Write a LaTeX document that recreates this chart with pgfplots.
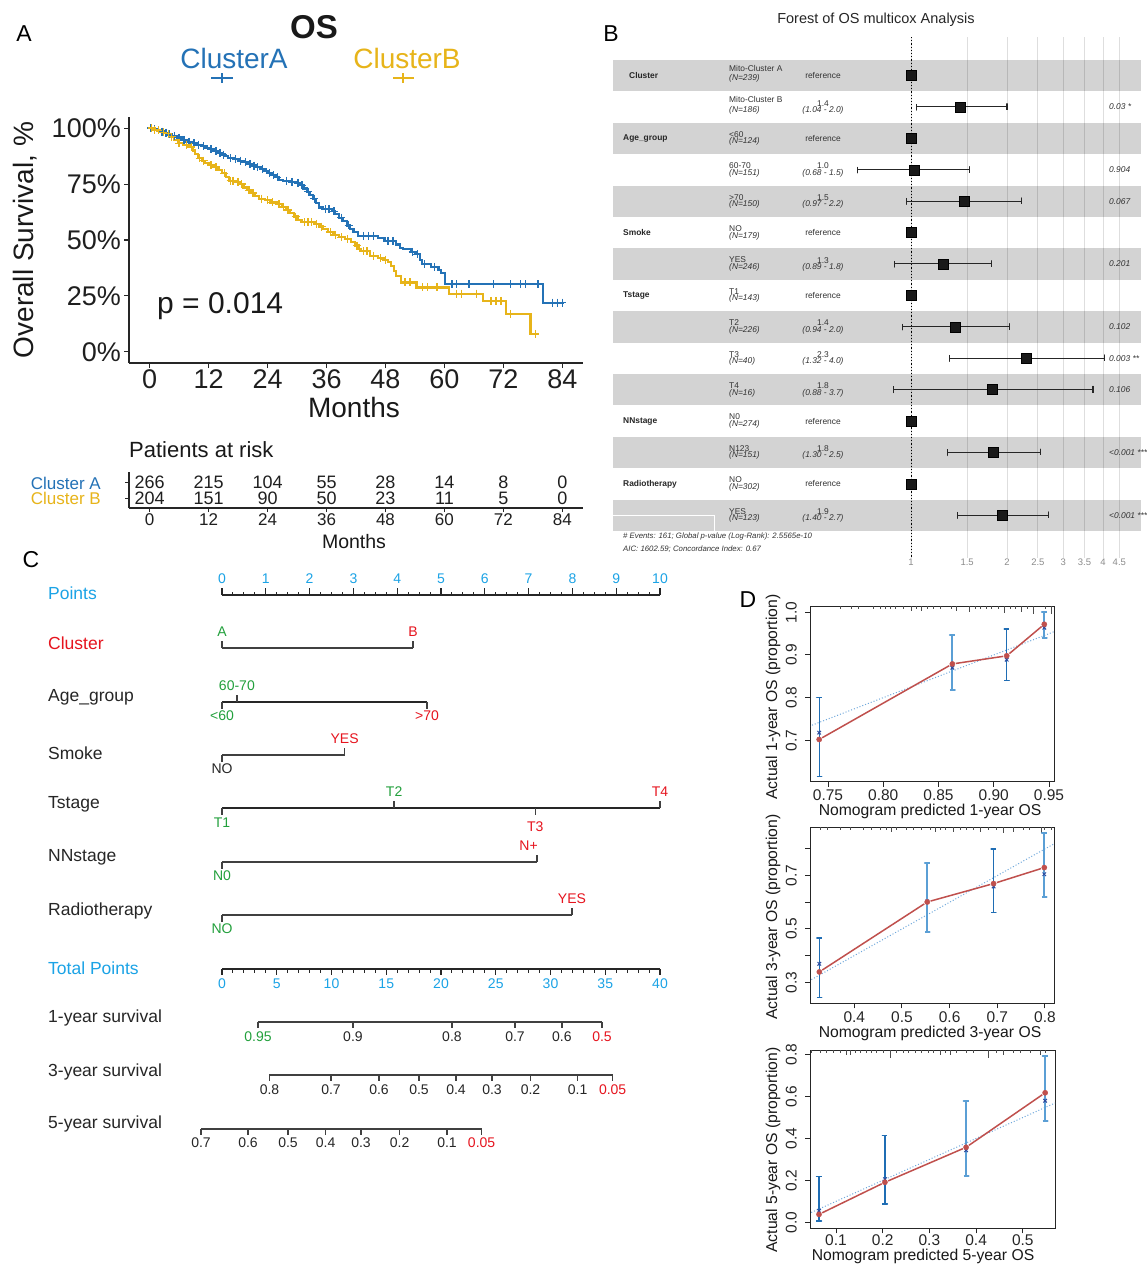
\documentclass[border=0pt]{standalone}
\usepackage{pgfplots}
\pgfplotsset{compat=1.18}
\usepackage{fontspec}
\setmainfont{Liberation Sans}
\newcommand{\fs}[1]{\fontsize{#1}{#1}\selectfont}
\definecolor{kmblue}{HTML}{2472B6}
\definecolor{kmgold}{HTML}{E7B41A}
\definecolor{nomblue}{HTML}{1BA3E6}
\definecolor{nomred}{HTML}{E6141E}
\definecolor{nomgreen}{HTML}{22A03C}
\definecolor{calred}{HTML}{C0504D}
\definecolor{bardark}{HTML}{1F6DB4}
\definecolor{barlight}{HTML}{5B9FD5}
\definecolor{calnavy}{HTML}{2B4A9E}
\definecolor{callight}{HTML}{6FA8DC}
\definecolor{bandgrey}{HTML}{D3D3D3}
\tikzset{
  fL/.style={anchor=west, inner sep=0pt, font=\fs{8.4}, text=black!80},
  fI/.style={anchor=west, inner sep=0pt, font=\itshape\fs{8.4}, text=black!80},
  fC/.style={anchor=center, inner sep=0pt, font=\fs{8.4}, text=black!80},
  fCI/.style={anchor=center, inner sep=0pt, font=\itshape\fs{8.4}, text=black!80},
  fV/.style={anchor=west, inner sep=0pt, font=\bfseries\fs{8.4}, text=black!85},
  nomline/.style={draw=black!75, line width=1.3pt},
  nomlab/.style={anchor=west, inner sep=0pt, font=\fs{17.5}, text=black!85},
  nt/.style={font=\fs{14}, inner sep=0pt},
  ebd/.style={bardark, line width=1.3pt, line join=round},
  ebl/.style={barlight, line width=1.8pt, line join=round},
}
\newcommand{\frow}[6]{%
  \node[fL] at (729,{#1-4}) {#2};
  \node[fI] at (729,{#1+3.3}) {(N=#3)};
  \node[fC] at (823,{#1-3.8}) {#4};
  \node[fCI] at (823,{#1+3.2}) {#5};
  \node[fI] at (1109,#1) {#6};}
\newcommand{\fref}[3]{%
  \node[fL] at (729,{#1-4}) {#2};
  \node[fI] at (729,{#1+3.3}) {(N=#3)};
  \node[fC] at (823,#1) {reference};}
\pgfplotsset{dstyle/.style={scale only axis,
  axis line style={line width=1pt, black!85},
  tick pos=left, tick align=outside, major tick length=5pt,
  tick style={black!85, line width=1pt},
  xticklabel style={font=\fs{15.5}, text=black!85, inner sep=3pt},
  yticklabel style={font=\fs{15.5}, text=black!85, rotate=90, anchor=south, inner sep=8pt}}}
\begin{document}
\begin{tikzpicture}
\useasboundingbox (0pt,0pt) rectangle (1147pt,-1264pt);
\fill[white] (0pt,0pt) rectangle (1147pt,-1264pt);

% forest bands
\begin{scope}[x=1pt,y=-1pt]
\foreach \k in {1,3,5,7,9,11,13,15}{
  \fill[bandgrey] (613,{60+(\k-1)*31.4}) rectangle (1141,{60+\k*31.4});
}
\draw[white, line width=1pt] (613,515) -- (714,515) -- (714,531);
\end{scope}

% ================= Panel A: KM =================
\begin{axis}[at={(129pt,-363pt)}, anchor=south west, scale only axis,
  width=454pt, height=246pt,
  xmin=-4.2, xmax=88.2, ymin=-0.05, ymax=1.05,
  axis x line*=bottom, axis y line*=left,
  axis line style={line width=1.1pt, black!85},
  tick style={line width=1.1pt, black!85},
  tick align=outside, major tick length=5pt,
  xtick={0,12,24,36,48,60,72,84},
  ytick={0,0.25,0.5,0.75,1}, yticklabels={0\%,25\%,50\%,75\%,100\%},
  xticklabel style={font=\fs{27}, text=black!88, inner sep=1pt},
  yticklabel style={font=\fs{27}, text=black!88, inner sep=3pt},
  /pgf/number format/assume math mode=true,
  clip=false]
\addplot[const plot, kmblue, line width=2.2pt] coordinates {
(0,1.0)(0.8,0.996)(1.5,0.99)(2.2,0.985)(3.0,0.98)(3.8,0.972)(4.6,0.966)(5.5,0.958)(6.5,0.948)(7.5,0.94)(8.4,0.933)(9.5,0.925)(10.4,0.92)(11.3,0.912)(12.2,0.906)(13.0,0.898)(13.8,0.89)(14.6,0.882)(15.4,0.874)(16.0,0.866)(17.0,0.862)(18.0,0.855)(19.0,0.848)(20.0,0.84)(20.8,0.833)(21.6,0.826)(22.6,0.818)(23.2,0.81)(24.0,0.798)(24.8,0.79)(25.6,0.78)(26.4,0.77)(27.2,0.765)(28.5,0.76)(29.8,0.755)(30.6,0.745)(31.3,0.73)(32.0,0.716)(32.6,0.70)(33.2,0.685)(33.8,0.665)(34.5,0.645)(35.2,0.638)(37.2,0.628)(37.8,0.615)(38.6,0.60)(39.4,0.585)(40.2,0.565)(40.8,0.55)(41.5,0.535)(42.4,0.519)(46.4,0.508)(47.8,0.496)(50.2,0.48)(50.9,0.466)(51.5,0.459)(53.2,0.447)(54.0,0.436)(55.0,0.41)(55.5,0.392)(57.2,0.38)(58.8,0.365)(59.3,0.354)(60.1,0.302)(80.1,0.22)(84.4,0.22)};
\addplot[only marks, mark=+, mark size=4pt, kmblue, mark options={line width=1.4pt}] coordinates {
(0.3,1.0)(1.0,0.996)(1.8,0.99)(2.5,0.985)(3.3,0.98)(4.0,0.972)(5.0,0.966)(6.0,0.958)(7.0,0.948)(8.0,0.94)(9.0,0.933)(10.0,0.925)(11.0,0.92)(12.5,0.906)(13.5,0.898)(14.3,0.89)(15.0,0.882)(16.5,0.866)(17.5,0.862)(18.5,0.855)(19.5,0.848)(20.4,0.84)(21.2,0.833)(22.0,0.826)(23.0,0.818)(24.4,0.798)(25.2,0.79)(26.0,0.78)(27.8,0.765)(29.0,0.76)(30.2,0.755)(31.0,0.745)(32.3,0.716)(33.5,0.685)(35.8,0.638)(36.5,0.638)(37.5,0.628)(39.0,0.60)(40.5,0.565)(43.5,0.519)(44.5,0.519)(45.5,0.519)(48.5,0.496)(49.5,0.496)(53.5,0.447)(54.5,0.436)(56.0,0.392)(58.0,0.38)(61.5,0.302)(62.5,0.302)(65.0,0.302)(70.0,0.302)(73.5,0.302)(75.5,0.302)(76.5,0.302)(79.0,0.302)(82.0,0.22)(83.0,0.22)(84.0,0.22)};
\addplot[const plot, kmgold, line width=2.2pt] coordinates {
(0,1.0)(0.7,0.994)(1.5,0.99)(2.3,0.982)(3.4,0.975)(4.2,0.962)(5.0,0.948)(5.7,0.932)(6.8,0.925)(8.1,0.915)(8.8,0.9)(9.3,0.885)(9.8,0.865)(10.6,0.855)(11.3,0.845)(12.0,0.835)(13.0,0.825)(14.0,0.812)(14.8,0.798)(15.5,0.78)(16.1,0.765)(17.5,0.76)(18.3,0.75)(19.1,0.735)(19.8,0.722)(20.6,0.71)(21.4,0.695)(22.2,0.685)(23.5,0.678)(24.5,0.668)(25.8,0.66)(26.9,0.648)(27.8,0.635)(28.6,0.62)(29.3,0.605)(30.1,0.59)(30.9,0.58)(33.5,0.572)(34.4,0.56)(35.3,0.548)(36.3,0.535)(37.4,0.522)(38.6,0.512)(39.8,0.503)(41.0,0.49)(41.8,0.475)(42.5,0.46)(43.0,0.45)(44.9,0.43)(46.5,0.42)(47.6,0.412)(48.5,0.40)(49.2,0.385)(49.8,0.36)(50.2,0.34)(51.1,0.31)(54.3,0.288)(61.0,0.26)(67.8,0.228)(72.6,0.17)(77.5,0.08)(79.3,0.08)};
\addplot[only marks, mark=+, mark size=4pt, kmgold, mark options={line width=1.4pt}] coordinates {
(0.4,1.0)(1.0,0.994)(1.8,0.99)(2.8,0.982)(3.8,0.975)(4.5,0.962)(6.0,0.932)(7.5,0.925)(8.5,0.915)(10.2,0.865)(11.0,0.855)(12.5,0.835)(13.5,0.825)(15.2,0.798)(16.5,0.765)(17.0,0.765)(18.0,0.76)(18.7,0.75)(20.2,0.722)(21.0,0.71)(22.8,0.685)(24.0,0.678)(25.0,0.668)(26.3,0.66)(27.3,0.648)(28.2,0.635)(29.7,0.605)(31.5,0.58)(32.2,0.58)(33.0,0.58)(34.0,0.572)(35.0,0.56)(36.8,0.535)(37.8,0.522)(39.0,0.512)(40.3,0.503)(42.2,0.475)(43.5,0.45)(44.2,0.45)(45.5,0.43)(47.0,0.42)(48.0,0.412)(52.0,0.31)(53.0,0.31)(55.5,0.288)(56.5,0.288)(58.5,0.288)(62.5,0.26)(63.5,0.26)(66.5,0.26)(69.5,0.228)(70.5,0.228)(71.5,0.228)(73.5,0.17)(78.5,0.08)};
\end{axis}

% risk table
\begin{axis}[at={(129pt,-508pt)}, anchor=south west, scale only axis,
  width=454pt, height=36pt,
  xmin=-4.2, xmax=88.2, ymin=0, ymax=36,
  axis x line*=bottom, axis y line*=left,
  axis line style={line width=1.1pt, black!85},
  tick style={line width=1pt, black!85},
  tick align=outside, major tick length=4pt,
  xtick={0,12,24,36,48,60,72,84}, ytick={10,26}, yticklabels={\mbox{},\mbox{}},
  xticklabel style={font=\fs{17}, text=black!88, inner sep=1.5pt},
  /pgf/number format/assume math mode=true,
  clip=false]
\foreach \xx/\aa/\bb in {0/266/204,12/215/151,24/104/90,36/55/50,48/28/23,60/14/11,72/8/5,84/0/0}{
  \edef\tmp{\noexpand\node[font=\noexpand\fs{18}, text=black!88, inner sep=0pt] at (axis cs:\xx,26) {\aa};
    \noexpand\node[font=\noexpand\fs{18}, text=black!88, inner sep=0pt] at (axis cs:\xx,10) {\bb};}
  \tmp
}
\end{axis}

% ================= Panel B: forest =================
\begin{axis}[at={(613pt,-558pt)}, anchor=south west, scale only axis,
  width=528pt, height=521pt,
  xmode=log, xmin=0.1163, xmax=5.262, ymin=-0.226, ymax=16.366, y dir=reverse,
  axis line style={draw=none}, major tick length=0pt, ytick=\empty,
  xtick={1,1.5,2,2.5,3,3.5,4,4.5}, xticklabels={1,1.5,2,2.5,3,3.5,4,4.5},
  xmajorgrids, grid style={black, opacity=0.13, line width=0.9pt},
  xticklabel style={font=\fs{9.5}, text=black!45, inner sep=1pt},
  clip=false]
\addplot[black, line width=0.9pt, dash pattern=on 1.2pt off 2pt] coordinates {(1,-0.226)(1,16.366)};
\addplot[black!85, line width=1.1pt, line join=round] coordinates {(1.04,1.9)(1.04,2.1)(1.04,2)(2.0,2)(2.0,1.9)(2.0,2.1)};
\addplot[black!85, line width=1.1pt, line join=round] coordinates {(0.68,3.9)(0.68,4.1)(0.68,4)(1.53,4)(1.53,3.9)(1.53,4.1)};
\addplot[black!85, line width=1.1pt, line join=round] coordinates {(0.97,4.9)(0.97,5.1)(0.97,5)(2.22,5)(2.22,4.9)(2.22,5.1)};
\addplot[black!85, line width=1.1pt, line join=round] coordinates {(0.89,6.9)(0.89,7.1)(0.89,7)(1.79,7)(1.79,6.9)(1.79,7.1)};
\addplot[black!85, line width=1.1pt, line join=round] coordinates {(0.94,8.9)(0.94,9.1)(0.94,9)(2.03,9)(2.03,8.9)(2.03,9.1)};
\addplot[black!85, line width=1.1pt, line join=round] coordinates {(1.32,9.9)(1.32,10.1)(1.32,10)(4.03,10)(4.03,9.9)(4.03,10.1)};
\addplot[black!85, line width=1.1pt, line join=round] coordinates {(0.88,10.9)(0.88,11.1)(0.88,11)(3.72,11)(3.72,10.9)(3.72,11.1)};
\addplot[black!85, line width=1.1pt, line join=round] coordinates {(1.30,12.9)(1.30,13.1)(1.30,13)(2.54,13)(2.54,12.9)(2.54,13.1)};
\addplot[black!85, line width=1.1pt, line join=round] coordinates {(1.40,14.9)(1.40,15.1)(1.40,15)(2.69,15)(2.69,14.9)(2.69,15.1)};
\addplot[only marks, mark=square*, mark size=5pt, mark options={fill=black!90, draw=none}] coordinates {
(1,1)(1.43,2)(1,3)(1.02,4)(1.47,5)(1,6)(1.26,7)(1,8)(1.38,9)(2.3,10)(1.8,11)(1,12)(1.81,13)(1,14)(1.93,15)};
\end{axis}

% ================= Panel C: nomogram =================
\begin{axis}[at={(0pt,-560pt)}, anchor=north west, scale only axis,
  width=700pt, height=600pt,
  xmin=-5.0685, xmax=10.913, ymin=560, ymax=1160, y dir=reverse,
  hide axis, clip=false]
% Points
\addplot[nomline, draw=black!85, line width=2pt] coordinates {(0,595)(10,595)};
\addplot[nomline, draw=black!85, quiver={u=0,v=-7}] coordinates {(0,595)(1,595)(2,595)(3,595)(4,595)(5,595)(6,595)(7,595)(8,595)(9,595)(10,595)};
\addplot[nomline, draw=black!85, line width=1pt, quiver={u=0,v=-3.5}] coordinates {(0.25,595)(0.5,595)(0.75,595)(1.25,595)(1.5,595)(1.75,595)(2.25,595)(2.5,595)(2.75,595)(3.25,595)(3.5,595)(3.75,595)(4.25,595)(4.5,595)(4.75,595)(5.25,595)(5.5,595)(5.75,595)(6.25,595)(6.5,595)(6.75,595)(7.25,595)(7.5,595)(7.75,595)(8.25,595)(8.5,595)(8.75,595)(9.25,595)(9.5,595)(9.75,595)};
\foreach \v in {0,...,10}{\edef\tmp{\noexpand\node[nt, text=nomblue] at (axis cs:\v,579) {\v};}\tmp}
% Cluster
\addplot[nomline] coordinates {(0,648)(4.36,648)};
\addplot[nomline, quiver={u=0,v=-7}] coordinates {(0,648)(4.36,648)};
\node[nt, text=nomgreen] at (axis cs:0,632) {A};
\node[nt, text=nomred] at (axis cs:4.36,632) {B};
% Age
\addplot[nomline, draw=black!85, line width=1.8pt] coordinates {(0,702)(4.68,702)};
\addplot[nomline, quiver={u=0,v=-7}] coordinates {(0.34,702)};
\addplot[nomline, quiver={u=0,v=7}] coordinates {(0,702)(4.68,702)};
\node[nt, text=nomgreen] at (axis cs:0.34,686) {60-70};
\node[nt, text=nomgreen] at (axis cs:0,716) {<60};
\node[nt, text=nomred] at (axis cs:4.68,716) {>70};
% Smoke
\addplot[nomline] coordinates {(0,755)(2.80,755)};
\addplot[nomline, quiver={u=0,v=-7}] coordinates {(2.80,755)};
\addplot[nomline, quiver={u=0,v=7}] coordinates {(0,755)};
\node[nt, text=nomred] at (axis cs:2.80,739) {YES};
\node[nt, text=black!85] at (axis cs:0,769) {NO};
% Tstage
\addplot[nomline, draw=black!85, line width=1.8pt] coordinates {(0,808)(10,808)};
\addplot[nomline, quiver={u=0,v=-7}] coordinates {(3.93,808)(10,808)};
\addplot[nomline, quiver={u=0,v=7}] coordinates {(0,808)(7.15,808)};
\node[nt, text=nomgreen] at (axis cs:3.93,792) {T2};
\node[nt, text=nomred] at (axis cs:10,792) {T4};
\node[nt, text=nomgreen] at (axis cs:0,823) {T1};
\node[nt, text=nomred] at (axis cs:7.15,827) {T3};
% NNstage
\addplot[nomline] coordinates {(0,862)(7.19,862)};
\addplot[nomline, quiver={u=0,v=-7}] coordinates {(7.19,862)};
\addplot[nomline, quiver={u=0,v=7}] coordinates {(0,862)};
\node[nt, text=nomred] at (axis cs:7.0,846) {N+};
\node[nt, text=nomgreen] at (axis cs:0,876) {N0};
% Radiotherapy
\addplot[nomline] coordinates {(0,915)(7.99,915)};
\addplot[nomline, quiver={u=0,v=-7}] coordinates {(7.99,915)};
\addplot[nomline, quiver={u=0,v=7}] coordinates {(0,915)};
\node[nt, text=nomred] at (axis cs:7.99,899) {YES};
\node[nt, text=nomgreen] at (axis cs:0,929) {NO};
% Total points
\addplot[nomline, draw=black!85, line width=2pt] coordinates {(0,969)(10,969)};
\addplot[nomline, draw=black!85, quiver={u=0,v=6}] coordinates {(0,969)(1.25,969)(2.5,969)(3.75,969)(5,969)(6.25,969)(7.5,969)(8.75,969)(10,969)};
\addplot[nomline, draw=black!85, line width=1pt, quiver={u=0,v=3.7}] coordinates {(0.25,969)(0.5,969)(0.75,969)(1.0,969)(1.5,969)(1.75,969)(2.0,969)(2.25,969)(2.75,969)(3.0,969)(3.25,969)(3.5,969)(4.0,969)(4.25,969)(4.5,969)(4.75,969)(5.25,969)(5.5,969)(5.75,969)(6.0,969)(6.5,969)(6.75,969)(7.0,969)(7.25,969)(7.75,969)(8.0,969)(8.25,969)(8.5,969)(9.0,969)(9.25,969)(9.5,969)(9.75,969)};
\foreach \p/\t in {0/0,1.25/5,2.5/10,3.75/15,5/20,6.25/25,7.5/30,8.75/35,10/40}{\edef\tmp{\noexpand\node[nt, text=nomblue] at (axis cs:\p,984) {\t};}\tmp}
% 1-year
\addplot[nomline] coordinates {(0.822,1022)(8.676,1022)};
\addplot[nomline, quiver={u=0,v=5.5}] coordinates {(0.822,1022)(2.99,1022)(5.25,1022)(6.69,1022)(7.76,1022)(8.676,1022)};
\node[nt, text=nomgreen] at (axis cs:0.822,1037) {0.95};
\foreach \p/\t in {2.99/0.9,5.25/0.8,6.69/0.7,7.76/0.6}{\edef\tmp{\noexpand\node[nt, text=black!85] at (axis cs:\p,1037) {\t};}\tmp}
\node[nt, text=nomred] at (axis cs:8.676,1037) {0.5};
% 3-year
\addplot[nomline] coordinates {(1.084,1075)(8.918,1075)};
\addplot[nomline, quiver={u=0,v=5.5}] coordinates {(1.084,1075)(2.489,1075)(3.584,1075)(4.498,1075)(5.342,1075)(6.164,1075)(7.043,1075)(8.119,1075)(8.918,1075)};
\foreach \p/\t in {1.084/0.8,2.489/0.7,3.584/0.6,4.498/0.5,5.342/0.4,6.164/0.3,7.043/0.2,8.119/0.1}{\edef\tmp{\noexpand\node[nt, text=black!85] at (axis cs:\p,1090) {\t};}\tmp}
\node[nt, text=nomred] at (axis cs:8.918,1090) {0.05};
% 5-year
\addplot[nomline] coordinates {(-0.479,1129)(5.927,1129)};
\addplot[nomline, quiver={u=0,v=5.5}] coordinates {(-0.479,1129)(0.594,1129)(1.507,1129)(2.365,1129)(3.174,1129)(4.055,1129)(5.137,1129)(5.927,1129)};
\foreach \p/\t in {-0.479/0.7,0.594/0.6,1.507/0.5,2.365/0.4,3.174/0.3,4.055/0.2,5.137/0.1}{\edef\tmp{\noexpand\node[nt, text=black!85] at (axis cs:\p,1143) {\t};}\tmp}
\node[nt, text=nomred] at (axis cs:5.927,1143) {0.05};
\end{axis}

% ================= Panel D =================
\begin{axis}[dstyle, at={(810pt,-781.7pt)}, anchor=south west,
  width=244pt, height=175.7pt,
  xmin=0.7337, xmax=0.9545, ymin=0.603, ymax=1.0148,
  xtick={0.75,0.8,0.85,0.9,0.95}, xticklabels={0.75,0.80,0.85,0.90,0.95},
  ytick={0.7,0.8,0.9,1.0}, yticklabels={0.7,0.8,0.9,1.0}]
\addplot[black!70, line width=0.8pt, quiver={u=0,v=\thisrow{v}}] table[row sep=\\]{
x y v\\ 0.7609 1.0148 -0.007\\ 0.7714 1.0148 -0.007\\ 0.7775 1.0148 -0.007\\ 0.7910 1.0148 -0.007\\ 0.7971 1.0148 -0.007\\ 0.8016 1.0148 -0.007\\ 0.8061 1.0148 -0.007\\ 0.8106 1.0148 -0.007\\ 0.8182 1.0148 -0.007\\ 0.8251 1.0148 -0.0117\\ 0.8296 1.0148 -0.007\\ 0.8348 1.0148 -0.0117\\ 0.8402 1.0148 -0.007\\ 0.8453 1.0148 -0.007\\ 0.8514 1.0148 -0.007\\ 0.8619 1.0148 -0.007\\ 0.8665 1.0148 -0.0117\\ 0.8776 1.0148 -0.014\\ 0.8830 1.0148 -0.007\\ 0.8876 1.0148 -0.007\\ 0.8936 1.0148 -0.007\\ 0.8981 1.0148 -0.007\\ 0.9041 1.0148 -0.007\\ 0.9096 1.0148 -0.0164\\ 0.9147 1.0148 -0.007\\ 0.9192 1.0148 -0.007\\ 0.9253 1.0148 -0.014\\ 0.9307 1.0148 -0.007\\ 0.9358 1.0148 -0.0187\\ 0.9464 1.0148 -0.007\\ 0.9524 1.0148 -0.0187\\};
\addplot[callight, line width=1pt, dash pattern=on 1pt off 2pt] coordinates {(0.70,0.70)(1.0,1.0)};
\addplot[ebd] coordinates {(0.7397,0.615)(0.7443,0.615)(0.742,0.615)(0.742,0.801)(0.7397,0.801)(0.7443,0.801)};
\addplot[ebl] coordinates {(0.8602,0.818)(0.8648,0.818)(0.8625,0.818)(0.8625,0.946)(0.8602,0.946)(0.8648,0.946)};
\addplot[ebd] coordinates {(0.9094,0.841)(0.9140,0.841)(0.9117,0.841)(0.9117,0.961)(0.9094,0.961)(0.9140,0.961)};
\addplot[ebl] coordinates {(0.9434,0.940)(0.9480,0.940)(0.9457,0.940)(0.9457,1.000)(0.9434,1.000)(0.9480,1.000)};
\addplot[only marks, mark=x, mark size=2.5pt, calnavy, mark options={line width=1pt}] coordinates {(0.742,0.718)(0.8625,0.870)(0.9117,0.889)(0.9457,0.964)};
\addplot[calred, line width=1.5pt, shorten >=3.5pt, shorten <=3.5pt] coordinates {(0.742,0.702)(0.8625,0.879)};
\addplot[calred, line width=1.5pt, shorten >=3.5pt, shorten <=3.5pt] coordinates {(0.8625,0.879)(0.9117,0.898)};
\addplot[calred, line width=1.5pt, shorten >=3.5pt, shorten <=3.5pt] coordinates {(0.9117,0.898)(0.9457,0.972)};
\addplot[only marks, mark=*, mark size=2.6pt, calred, mark options={draw=none}] coordinates {(0.742,0.702)(0.8625,0.879)(0.9117,0.898)(0.9457,0.972)};
\end{axis}

\begin{axis}[dstyle, at={(810pt,-1003.3pt)}, anchor=south west,
  width=244pt, height=176pt,
  xmin=0.307, xmax=0.819, ymin=0.221, ymax=0.881,
  xtick={0.4,0.5,0.6,0.7,0.8}, xticklabels={0.4,0.5,0.6,0.7,0.8},
  ytick={0.3,0.4,0.5,0.6,0.7,0.8}, yticklabels={0.3,,0.5,,0.7,}]
\addplot[black!70, line width=0.8pt, quiver={u=0,v=\thisrow{v}}] table[row sep=\\]{
x y v\\ 0.3281 0.881 -0.0113\\ 0.3434 0.881 -0.0113\\ 0.3700 0.881 -0.0113\\ 0.3910 0.881 -0.0113\\ 0.4189 0.881 -0.0113\\ 0.4365 0.881 -0.0113\\ 0.4539 0.881 -0.0113\\ 0.4679 0.881 -0.0113\\ 0.4784 0.881 -0.0188\\ 0.4889 0.881 -0.0113\\ 0.5098 0.881 -0.0113\\ 0.5237 0.881 -0.0113\\ 0.5413 0.881 -0.0113\\ 0.5587 0.881 -0.0113\\ 0.5692 0.881 -0.0188\\ 0.5797 0.881 -0.0113\\ 0.5901 0.881 -0.0113\\ 0.6076 0.881 -0.0188\\ 0.6216 0.881 -0.0113\\ 0.6356 0.881 -0.0113\\ 0.6495 0.881 -0.0113\\ 0.6635 0.881 -0.0188\\ 0.6809 0.881 -0.0113\\ 0.6985 0.881 -0.0113\\ 0.7124 0.881 -0.0225\\ 0.7333 0.881 -0.0188\\ 0.7543 0.881 -0.0113\\ 0.7683 0.881 -0.0113\\ 0.7929 0.881 -0.0225\\ 0.7998 0.881 -0.0113\\ 0.8138 0.881 -0.0113\\};
\addplot[callight, line width=1pt, dash pattern=on 1pt off 2pt] coordinates {(0.2,0.2)(0.9,0.9)};
\addplot[ebd] coordinates {(0.3214,0.244)(0.3318,0.244)(0.3266,0.244)(0.3266,0.466)(0.3214,0.466)(0.3318,0.466)};
\addplot[ebl] coordinates {(0.5478,0.487)(0.5582,0.487)(0.553,0.487)(0.553,0.747)(0.5478,0.747)(0.5582,0.747)};
\addplot[ebd] coordinates {(0.6870,0.561)(0.6974,0.561)(0.6922,0.561)(0.6922,0.800)(0.6870,0.800)(0.6974,0.800)};
\addplot[ebl] coordinates {(0.7934,0.619)(0.8038,0.619)(0.7986,0.619)(0.7986,0.859)(0.7934,0.859)(0.8038,0.859)};
\addplot[only marks, mark=x, mark size=2.5pt, calnavy, mark options={line width=1pt}] coordinates {(0.3266,0.369)(0.553,0.603)(0.6922,0.659)(0.7986,0.705)};
\addplot[calred, line width=1.5pt, shorten >=3.5pt, shorten <=3.5pt] coordinates {(0.3266,0.3387)(0.553,0.601)};
\addplot[calred, line width=1.5pt, shorten >=3.5pt, shorten <=3.5pt] coordinates {(0.553,0.601)(0.6922,0.670)};
\addplot[calred, line width=1.5pt, shorten >=3.5pt, shorten <=3.5pt] coordinates {(0.6922,0.670)(0.7986,0.730)};
\addplot[only marks, mark=*, mark size=2.6pt, calred, mark options={draw=none}] coordinates {(0.3266,0.3387)(0.553,0.601)(0.6922,0.670)(0.7986,0.730)};
\end{axis}

\begin{axis}[dstyle, at={(810pt,-1228.3pt)}, anchor=south west,
  width=245pt, height=178.3pt,
  xmin=0.0443, xmax=0.569, ymin=-0.0286, ymax=0.822,
  xtick={0.1,0.2,0.3,0.4,0.5}, xticklabels={0.1,0.2,0.3,0.4,0.5},
  xticklabel style={inner sep=1.5pt},
  ytick={0,0.2,0.4,0.6,0.8}, yticklabels={0.0,0.2,0.4,0.6,0.8}]
\addplot[black!70, line width=0.8pt, quiver={u=0,v=\thisrow{v}}] table[row sep=\\]{
x y v\\ 0.048 0.822 -0.0143\\ 0.0657 0.822 -0.0143\\ 0.080 0.822 -0.0143\\ 0.0943 0.822 -0.0143\\ 0.1086 0.822 -0.0143\\ 0.1229 0.822 -0.024\\ 0.130 0.822 -0.024\\ 0.1407 0.822 -0.0143\\ 0.1514 0.822 -0.0143\\ 0.1657 0.822 -0.0143\\ 0.1764 0.822 -0.0143\\ 0.1871 0.822 -0.0143\\ 0.2013 0.822 -0.0143\\ 0.2156 0.822 -0.038\\ 0.2300 0.822 -0.0143\\ 0.2441 0.822 -0.0143\\ 0.2548 0.822 -0.0143\\ 0.2692 0.822 -0.0143\\ 0.2835 0.822 -0.0143\\ 0.2976 0.822 -0.0143\\ 0.3083 0.822 -0.0143\\ 0.3227 0.822 -0.024\\ 0.3334 0.822 -0.0143\\ 0.3441 0.822 -0.024\\ 0.3584 0.822 -0.0143\\ 0.3799 0.822 -0.0143\\ 0.3940 0.822 -0.0143\\ 0.4261 0.822 -0.038\\ 0.4441 0.822 -0.0143\\ 0.4583 0.822 -0.024\\ 0.4797 0.822 -0.0143\\ 0.4940 0.822 -0.0143\\ 0.5154 0.822 -0.0143\\ 0.5368 0.822 -0.024\\ 0.5475 0.822 -0.0143\\};
\addplot[callight, line width=1pt, dash pattern=on 1pt off 2pt] coordinates {(0,0)(0.6,0.6)};
\addplot[ebd] coordinates {(0.0582,0.006)(0.0690,0.006)(0.0636,0.006)(0.0636,0.218)(0.0582,0.218)(0.0690,0.218)};
\addplot[ebd] coordinates {(0.1993,0.087)(0.2101,0.087)(0.2047,0.087)(0.2047,0.414)(0.1993,0.414)(0.2101,0.414)};
\addplot[ebl] coordinates {(0.3732,0.221)(0.3840,0.221)(0.3786,0.221)(0.3786,0.580)(0.3732,0.580)(0.3840,0.580)};
\addplot[ebl] coordinates {(0.5425,0.483)(0.5533,0.483)(0.5479,0.483)(0.5479,0.795)(0.5425,0.795)(0.5533,0.795)};
\addplot[only marks, mark=x, mark size=2.5pt, calnavy, mark options={line width=1pt}] coordinates {(0.0636,0.055)(0.2047,0.206)(0.3786,0.344)(0.5479,0.580)};
\addplot[calred, line width=1.5pt, shorten >=3.5pt, shorten <=3.5pt] coordinates {(0.0636,0.038)(0.2047,0.191)};
\addplot[calred, line width=1.5pt, shorten >=3.5pt, shorten <=3.5pt] coordinates {(0.2047,0.191)(0.3786,0.358)};
\addplot[calred, line width=1.5pt, shorten >=3.5pt, shorten <=3.5pt] coordinates {(0.3786,0.358)(0.5479,0.618)};
\addplot[only marks, mark=*, mark size=2.6pt, calred, mark options={draw=none}] coordinates {(0.0636,0.038)(0.2047,0.191)(0.3786,0.358)(0.5479,0.618)};
\end{axis}

% ================= text =================
\begin{scope}[x=1pt,y=-1pt]
% panel letters
\node[font=\fs{23}] at (24,34) {A};
\node[font=\fs{23}] at (611,34) {B};
\node[font=\fs{23}] at (31,560) {C};
\node[font=\fs{23}] at (748,600) {D};
% KM texts
\node[font=\bfseries\fs{33}, text=black!90] at (314,27) {OS};
\node[font=\fs{28}, text=kmblue] at (234,58) {ClusterA};
\node[font=\fs{28}, text=kmgold] at (407,58) {ClusterB};
\draw[kmblue, line width=2.2pt] (211,78) -- (233,78);
\draw[kmblue, line width=1.5pt] (222,73) -- (222,83);
\draw[kmgold, line width=2.2pt] (393,78) -- (414,78);
\draw[kmgold, line width=1.5pt] (403,73) -- (403,83);
\node[font=\fs{28}, rotate=90, text=black!90] at (25,240) {Overall Survival, \%};
\node[font=\fs{28}, text=black!90] at (354,407) {Months};
\node[font=\fs{30}, anchor=base west, inner sep=0pt, text=black!90] at (157,313) {p = 0.014};
\node[font=\fs{22}, anchor=west, inner sep=0pt, text=black!90] at (129,450) {Patients at risk};
\node[font=\fs{17}, anchor=east, inner sep=0pt, text=kmblue] at (101,483) {Cluster A};
\node[font=\fs{17}, anchor=east, inner sep=0pt, text=kmgold] at (101,498) {Cluster B};
\node[font=\fs{19.5}, text=black!90] at (354,542) {Months};
% Forest texts
\node[font=\fs{14.5}, text=black!85] at (876,20) {Forest of OS multicox Analysis};
\node[fV] at (629,75.7) {Cluster};
\node[fV] at (623,138.5) {Age\_group};
\node[fV] at (623,232.7) {Smoke};
\node[fV] at (623,295.5) {Tstage};
\node[fV] at (623,421.1) {NNstage};
\node[fV] at (623,483.9) {Radiotherapy};
\node[fL] at (729,68.3) {Mito-Cluster A};
\node[fI] at (729,78.8) {(N=239)};
\node[fC] at (823,75.7) {reference};
\node[fL] at (729,99.5) {Mito-Cluster B};
\node[fI] at (729,110.2) {(N=186)};
\node[fC] at (823,103.3) {1.4};
\node[fCI] at (823,110.3) {(1.04 - 2.0)};
\node[fI] at (1109,107.1) {0.03 *};
\fref{138.5}{<60}{124}
\frow{169.9}{60-70}{151}{1.0}{(0.68 - 1.5)}{0.904}
\frow{201.3}{>70}{150}{1.5}{(0.97 - 2.2)}{0.067}
\fref{232.7}{NO}{179}
\frow{264.1}{YES}{246}{1.3}{(0.89 - 1.8)}{0.201}
\fref{295.5}{T1}{143}
\frow{326.9}{T2}{226}{1.4}{(0.94 - 2.0)}{0.102}
\frow{358.3}{T3}{40}{2.3}{(1.32 - 4.0)}{0.003 **}
\frow{389.7}{T4}{16}{1.8}{(0.88 - 3.7)}{0.106}
\fref{421.1}{N0}{274}
\frow{452.5}{N123}{151}{1.8}{(1.30 - 2.5)}{<0.001 ***}
\fref{483.9}{NO}{302}
\frow{515.3}{YES}{123}{1.9}{(1.40 - 2.7)}{<0.001 ***}
\node[fI, font=\itshape\fs{7.8}] at (623,536) {\# Events: 161; Global p-value (Log-Rank): 2.5565e-10};
\node[fI, font=\itshape\fs{7.8}] at (623,549) {AIC: 1602.59; Concordance Index: 0.67};
% Nomogram labels
\node[nomlab, text=nomblue] at (48,593) {Points};
\node[nomlab, text=nomred] at (48,643) {Cluster};
\node[nomlab] at (48,697) {Age\_group};
\node[nomlab] at (48,753) {Smoke};
\node[nomlab] at (48,804) {Tstage};
\node[nomlab] at (48,857) {NNstage};
\node[nomlab] at (48,911) {Radiotherapy};
\node[nomlab, text=nomblue] at (48,968) {Total Points};
\node[nomlab] at (48,1018) {1-year survival};
\node[nomlab] at (48,1072) {3-year survival};
\node[nomlab] at (48,1124) {5-year survival};
% D labels
\node[font=\fs{15.7}, rotate=90, text=black!90] at (773,697) {Actual 1-year OS (proportion)};
\node[font=\fs{15.7}, text=black!90] at (930,811) {Nomogram predicted 1-year OS};
\node[font=\fs{15.7}, rotate=90, text=black!90] at (773,917) {Actual 3-year OS (proportion)};
\node[font=\fs{15.7}, text=black!90] at (930,1033) {Nomogram predicted 3-year OS};
\node[font=\fs{15.7}, rotate=90, text=black!90] at (773,1150) {Actual 5-year OS (proportion)};
\node[font=\fs{15.7}, text=black!90] at (923,1256.5) {Nomogram predicted 5-year OS};
\end{scope}
\end{tikzpicture}
\end{document}
